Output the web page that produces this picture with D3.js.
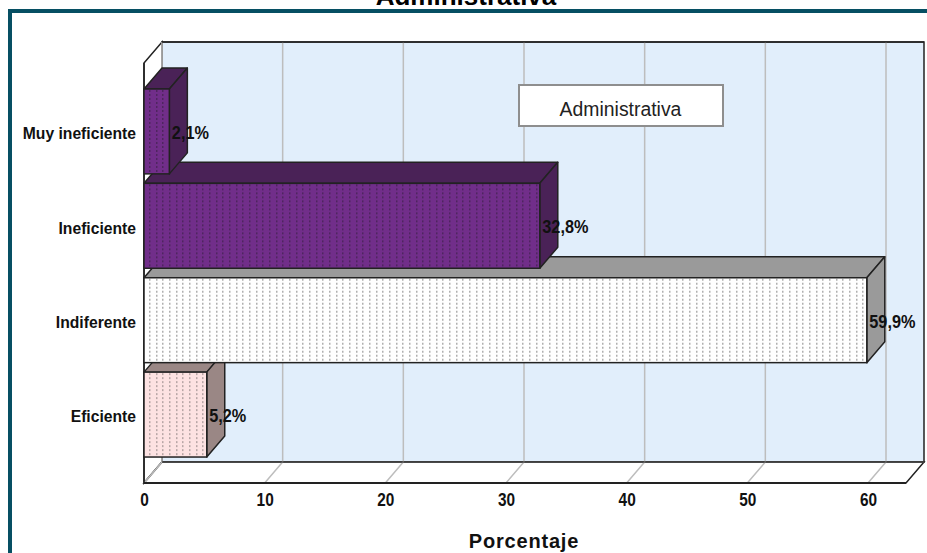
<!DOCTYPE html>
<html><head><meta charset="utf-8">
<script src="https://cdn.jsdelivr.net/npm/d3@7"></script>
<style>html,body{margin:0;padding:0;background:#fff;overflow:hidden}svg{display:block}</style>
</head><body><svg id="c" width="927" height="553"></svg>
<script>
const categories = ["Muy ineficiente","Ineficiente","Indiferente","Eficiente"];
const values = [2.1,32.8,59.9,5.2];
const valueLabels = ["2,1%","32,8%","59,9%","5,2%"];
const tickValues = [0,10,20,30,40,50,60];
const fronts = ["#712e8a","#712e8a","#ffffff","#fde2e2"];
const sides = ["#4a2257","#4a2257","#9a9a9a","#9a8785"];
const dots = ["#4f2560","#4f2560","#b0b0b0","#b8a6a6"];
const title = "Administrativa", axisTitle = "Porcentaje", legendText = "Administrativa";

const svg = d3.select("#c");
const x = d3.scaleLinear().domain([0,60]).range([144,868]);
const y = d3.scaleBand().domain(categories).range([63,483]).paddingInner(9.5/94.5).paddingOuter(26/94.5);
const dx = 18, dy = -21;
const [y0,y1] = y.range();
const xEnd = 906;
const pts = a => a.map(p=>p.join(",")).join(" ");
const ink = "#222";
const sans = "Liberation Sans";
const squeeze = (sel,k) => sel.each(function(){
  this.setAttribute("textLength", this.getComputedTextLength()*k);
  this.setAttribute("lengthAdjust","spacingAndGlyphs");
});

const defs = svg.append("defs");
fronts.forEach((f,i)=>{
  const p = defs.append("pattern").attr("id","p"+i).attr("patternUnits","userSpaceOnUse")
    .attr("width",20).attr("height",4).attr("x",x(0)).attr("y",y(categories[i]));
  p.append("rect").attr("width",20).attr("height",4).attr("fill",f);
  [5,12,18].forEach(c=>p.append("rect").attr("x",c).attr("y",1).attr("width",1.5).attr("height",2).attr("fill",dots[i]));
});

svg.append("text").text(title).attr("x",466).attr("y",5).attr("text-anchor","middle")
  .attr("font-family",sans).attr("font-weight","bold").attr("font-size",26).attr("fill","#000");
svg.append("rect").attr("x",10).attr("y",11).attr("width",960).attr("height",600)
  .attr("fill","none").attr("stroke","#064f63").attr("stroke-width",4);

// walls and floor
svg.append("polygon").attr("points",pts([[x(0)+dx,y0+dy],[xEnd+dx,y0+dy],[xEnd+dx,y1+dy],[x(0)+dx,y1+dy]]))
  .attr("fill","#e1eefb").attr("stroke",ink).attr("stroke-width",1.5);
svg.append("polygon").attr("points",pts([[x(0),y0],[x(0)+dx,y0+dy],[x(0)+dx,y1+dy],[x(0),y1]]))
  .attr("fill","#fff").attr("stroke",ink).attr("stroke-width",1.5);
svg.append("polygon").attr("points",pts([[x(0),y1],[x(0)+dx,y1+dy],[xEnd+dx,y1+dy],[xEnd,y1]]))
  .attr("fill","#fff").attr("stroke",ink).attr("stroke-width",1.5);
// grid
tickValues.forEach(t=>{
  svg.append("polyline").attr("points",pts([[x(t),y1],[x(t)+dx,y1+dy],[x(t)+dx,y0+dy]]))
    .attr("fill","none").attr("stroke","#bdbdbd").attr("stroke-width",1.5);
});
svg.append("line").attr("x1",x(0)).attr("x2",xEnd).attr("y1",y1).attr("y2",y1).attr("stroke",ink).attr("stroke-width",2);
svg.append("line").attr("x1",x(0)+dx).attr("x2",xEnd+dx).attr("y1",y0+dy).attr("y2",y0+dy).attr("stroke",ink).attr("stroke-width",1.5);
svg.append("line").attr("x1",x(0)+dx).attr("x2",xEnd+dx).attr("y1",y1+dy).attr("y2",y1+dy).attr("stroke","#444").attr("stroke-width",1.5);
svg.append("line").attr("x1",x(0)).attr("x2",x(0)).attr("y1",y0).attr("y2",y1).attr("stroke",ink).attr("stroke-width",1.5);

// bars, lower ones first so upper ones overlap them
const idx = d3.range(categories.length).reverse();
const bars = svg.selectAll("g.bar").data(idx).join("g").attr("class","bar");
bars.append("polygon").attr("fill",i=>sides[i]).attr("stroke",ink).attr("stroke-width",1.5).attr("stroke-linejoin","round")
  .attr("points",i=>{const a=x(0),b=x(values[i]),t=y(categories[i]);
    return pts([[a,t],[a+dx,t+dy],[b+dx,t+dy],[b,t]]);});
bars.append("polygon").attr("fill",i=>sides[i]).attr("stroke",ink).attr("stroke-width",1.5).attr("stroke-linejoin","round")
  .attr("points",i=>{const b=x(values[i]),t=y(categories[i]),h=y.bandwidth();
    return pts([[b,t],[b+dx,t+dy],[b+dx,t+h+dy],[b,t+h]]);});
bars.append("rect").attr("x",x(0)).attr("y",i=>y(categories[i])).attr("width",i=>x(values[i])-x(0)).attr("height",y.bandwidth())
  .attr("fill",i=>`url(#p${i})`).attr("stroke",ink).attr("stroke-width",1.5);

// value labels
svg.selectAll("text.val").data(idx).join("text").attr("class","val").text(i=>valueLabels[i])
  .attr("x",i=>x(values[i])+2.5).attr("y",i=>y(categories[i])+y.bandwidth()/2+1).attr("dy","0.35em")
  .attr("font-family",sans).attr("font-weight","bold").attr("font-size",18.5).attr("fill","#111")
  .call(squeeze,0.88);

// axes
const gx = svg.append("g").attr("transform",`translate(0,${y1})`).call(d3.axisBottom(x).tickValues(tickValues).tickSize(0).tickPadding(11).tickFormat(d3.format("d")));
gx.select(".domain").remove();
gx.selectAll("text").attr("font-family",sans).attr("font-weight","bold").attr("font-size",17.5).attr("fill","#111").call(squeeze,0.88);
const gy = svg.append("g").attr("transform",`translate(${x(0)},2.5)`).call(d3.axisLeft(y).tickSize(0).tickPadding(8));
gy.select(".domain").remove();
gy.selectAll("text").attr("font-family",sans).attr("font-weight","bold").attr("font-size",16.5).attr("fill","#111").call(squeeze,0.95);

svg.append("text").text(axisTitle).attr("x",524).attr("y",548).attr("text-anchor","middle")
  .attr("font-family",sans).attr("font-weight","bold").attr("font-size",20).attr("letter-spacing",0.8).attr("fill","#111");

// legend
svg.append("rect").attr("x",519).attr("y",85).attr("width",204).attr("height",41).attr("fill","#fff").attr("stroke","#8e8e8e").attr("stroke-width",2);
svg.append("text").text(legendText).attr("x",620.5).attr("y",115.5).attr("text-anchor","middle")
  .attr("font-family",sans).attr("font-size",19.4).attr("fill","#222");
</script></body></html>
